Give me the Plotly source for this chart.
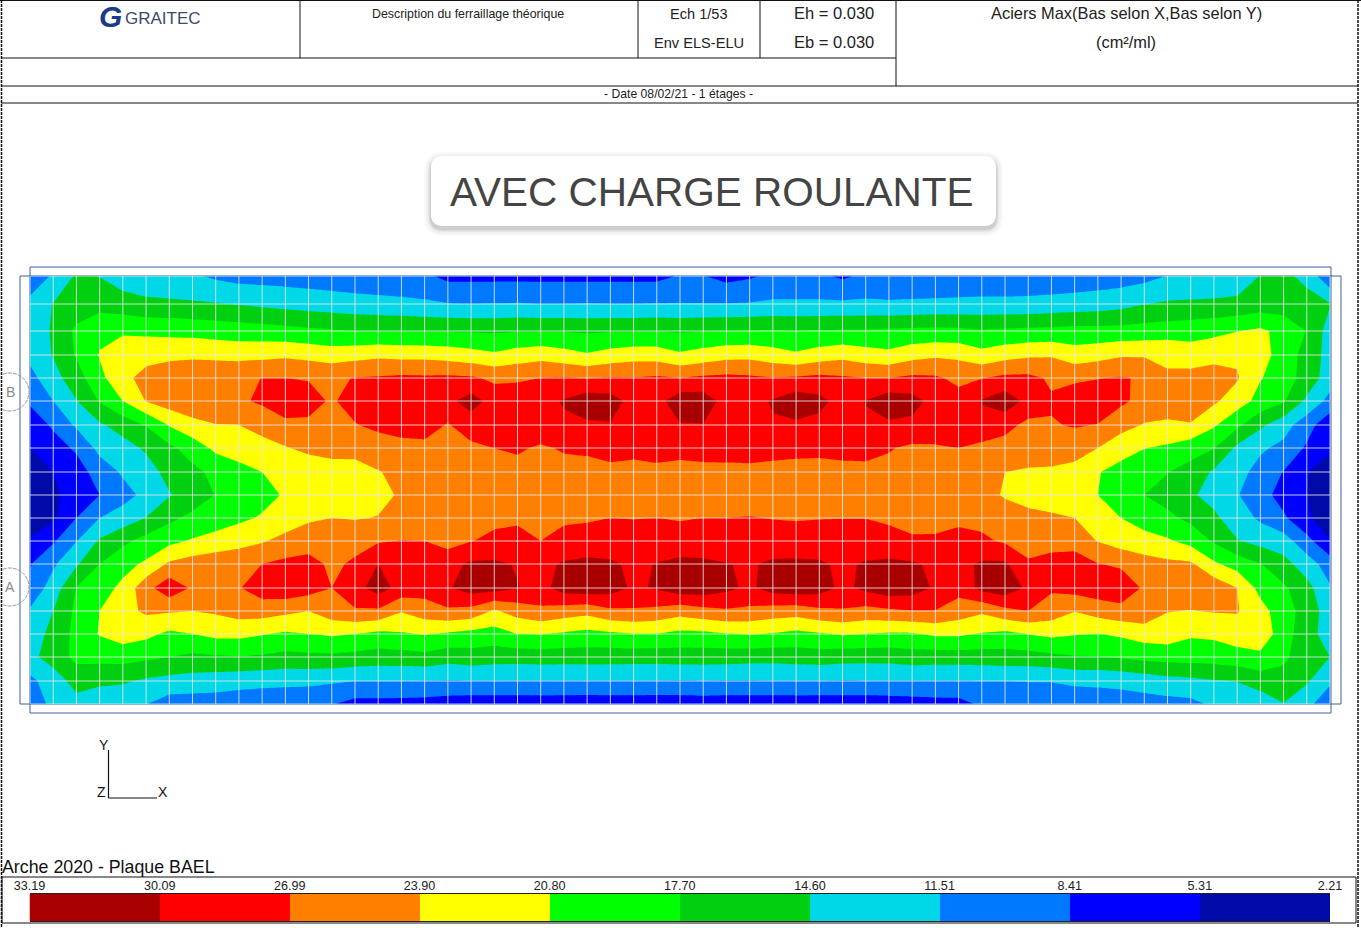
import plotly.graph_objects as go

W, H = 1361, 928

# ---------- data ----------
legend_labels = ["33.19", "30.09", "26.99", "23.90", "20.80", "17.70", "14.60", "11.51", "8.41", "5.31", "2.21"]
legend_levels = [float(v) for v in legend_labels]
band_colors = ["#000AA8", "#0000FF", "#0078FF", "#00D8E8", "#00D010",
               "#00FF00", "#FFFF00", "#FF8000", "#FF0000", "#A80000"]

x_cells = list(range(57))
y_rows = [0, 28, 55, 79, 102, 125, 149, 172, 196, 219, 242, 265, 288, 312, 335, 358, 381, 405, 428]

row_00 = [8.9,12.0,15.0,14.5,13.0,12.6,12.2,11.9,11.0,10.4,10.3,10.2,10.0,9.8,9.6,9.4,9.2,9.0,7.6,7.6,7.6,7.6,7.6,7.6,7.6,7.6,7.6,7.6,8.6,8.5,7.4,8.0,9.0,9.0,9.0,7.9,9.0,9.2,9.2,9.2,9.3,9.3,9.3,9.3,9.4,9.6,9.8,10.0,10.5,11.6,12.0,12.2,12.6,14.7,15.4,13.6,9.0]
row_01 = [12.6,14.7,16.0,16.6,16.0,15.3,15.2,15.0,14.8,14.4,14.0,13.6,13.3,13.0,12.7,12.5,12.3,12.0,11.6,11.5,11.6,11.7,11.5,11.5,11.6,11.5,11.5,11.6,11.6,11.6,11.6,11.7,12.0,12.0,12.0,12.0,12.1,11.9,12.0,12.1,12.2,12.3,12.3,12.4,12.6,12.8,13.1,13.6,14.5,15.0,15.1,15.2,15.4,16.0,16.2,16.0,14.8]
row_02 = [12.5,15.0,18.3,20.0,20.4,20.2,20.0,19.8,19.5,19.3,19.0,18.7,18.3,18.0,17.7,17.6,17.6,17.5,17.5,17.4,17.3,17.5,17.5,17.5,17.3,17.5,17.5,17.6,17.4,17.6,17.7,17.8,17.9,17.7,17.9,18.0,18.0,18.2,18.4,18.5,18.4,18.0,18.2,18.4,18.5,18.8,18.7,18.8,19.0,19.2,19.5,20.0,20.7,21.4,19.8,17.6,13.2]
row_03 = [12.3,14.8,18.0,21.0,22.5,22.8,23.1,23.3,23.1,22.8,23.1,23.4,23.0,22.4,22.8,23.3,23.0,23.0,22.6,22.0,21.3,22.2,22.8,22.0,21.1,22.0,22.6,22.5,21.3,22.1,22.9,23.0,22.2,21.3,22.3,23.0,22.2,21.6,22.8,23.4,23.2,21.8,22.8,23.4,23.6,22.2,22.8,23.6,23.6,23.6,22.4,23.0,23.4,22.0,19.5,16.5,13.5]
row_04 = [10.5,13.5,16.3,20.0,23.0,25.0,26.0,26.3,26.5,26.9,27.0,27.0,26.8,26.5,27.1,27.3,27.6,27.5,27.6,27.4,26.4,26.6,27.0,27.2,26.9,27.2,27.1,27.4,27.0,27.5,27.7,27.5,27.1,27.4,27.8,27.4,27.0,27.0,27.6,27.4,26.3,26.9,27.7,27.7,26.6,26.5,26.9,27.2,26.7,24.1,24.9,25.2,24.2,21.0,19.2,16.5,13.0]
row_05 = [8.9,11.5,14.5,17.9,20.8,24.0,25.5,26.0,26.4,26.5,27.5,29.0,28.2,26.6,28.4,29.4,29.0,28.5,29.3,31.5,28.8,28.6,28.9,30.4,32.0,31.5,29.0,29.0,32.0,31.8,28.9,28.9,30.4,32.0,31.0,28.8,30.2,32.0,31.2,29.0,28.1,30.3,32.0,29.2,27.3,28.6,28.6,27.6,26.0,25.5,25.7,24.4,22.3,19.8,18.0,14.0,10.5]
row_06 = [6.5,8.9,12.0,14.2,15.8,17.9,21.0,23.0,23.8,23.9,24.8,26.2,26.4,26.3,26.8,27.9,28.5,28.2,26.8,28.4,29.3,29.8,29.0,29.5,29.6,29.9,29.8,29.9,29.9,30.0,29.6,29.7,29.8,29.6,29.2,29.4,29.7,29.6,29.4,28.6,29.2,29.0,28.0,26.2,26.8,27.2,26.9,24.9,23.7,23.4,23.7,21.2,18.4,15.2,12.8,9.7,6.2]
row_07 = [5.3,7.0,8.9,12.4,13.5,15.0,17.0,19.0,21.5,22.6,23.0,23.7,24.6,25.0,24.6,25.0,25.8,26.3,26.3,26.4,27.0,27.4,26.6,27.3,27.5,28.3,27.9,28.3,28.0,28.3,28.2,28.4,28.0,27.8,27.7,28.0,28.0,27.2,26.5,26.7,27.0,26.3,25.8,25.3,25.6,25.5,23.9,22.2,20.9,20.3,19.0,17.8,14.0,12.0,10.7,8.0,5.7]
row_08 = [3.3,5.3,7.0,9.8,11.9,13.4,15.5,17.0,18.4,19.5,20.8,21.4,22.0,22.6,23.1,23.8,24.4,25.0,25.4,25.7,25.9,26.0,25.8,26.0,26.0,26.1,26.0,26.2,26.0,26.1,26.2,26.2,26.1,26.0,26.0,26.1,26.2,26.2,26.0,25.9,25.7,24.8,23.9,23.6,23.4,22.7,21.0,19.6,18.6,17.8,16.5,14.2,12.6,10.4,8.3,5.4,4.0]
row_09 = [2.8,4.6,6.9,8.4,10.4,12.3,14.4,15.9,17.8,18.6,19.8,21.1,22.0,22.4,22.7,23.2,24.2,24.9,25.3,25.5,25.6,25.7,25.5,25.6,25.7,25.7,25.6,25.8,25.7,25.7,25.8,25.7,25.6,25.7,25.8,25.7,25.8,25.8,25.7,25.6,25.5,25.0,23.6,23.0,22.6,22.2,20.8,19.4,17.7,16.7,15.0,13.6,11.7,9.6,7.2,5.4,2.9]
row_10 = [3.0,4.8,8.4,11.5,12.9,14.7,17.0,18.5,19.2,20.2,21.1,22.1,23.4,23.9,23.7,24.0,24.9,25.4,25.5,25.9,26.3,26.5,26.0,26.5,26.7,27.0,26.9,27.0,26.8,27.0,27.0,27.1,26.9,26.8,26.9,26.95,26.95,26.6,26.5,26.3,26.4,26.2,25.4,24.6,24.3,23.9,22.8,20.8,19.6,18.3,17.0,15.2,13.0,11.0,8.9,5.8,3.5]
row_11 = [5.8,8.0,11.4,15.0,17.0,18.8,20.0,21.1,22.0,22.7,23.6,24.9,25.8,26.3,26.1,26.7,27.1,27.0,25.8,26.9,27.7,28.0,27.0,28.0,28.1,28.5,28.4,28.5,28.2,28.6,28.6,28.7,28.4,28.2,28.3,28.3,28.3,27.9,27.2,27.3,27.9,27.5,26.6,25.7,26.0,25.4,23.8,22.5,21.8,21.2,19.8,17.3,14.8,13.6,12.9,9.5,5.5]
row_12 = [8.2,11.0,14.2,17.7,19.8,21.3,24.4,25.4,25.9,26.3,27.0,27.7,27.9,26.5,27.4,30.1,29.5,29.4,29.1,30.6,30.6,29.9,29.4,30.4,30.9,30.5,29.6,30.2,30.9,30.6,30.2,29.8,30.6,30.7,30.5,29.6,30.4,30.8,30.5,29.5,29.3,30.5,30.6,27.4,28.0,29.0,27.1,26.5,25.3,24.6,24.4,21.3,19.5,17.8,15.7,13.0,10.0]
row_13 = [9.3,12.9,17.8,19.5,21.5,26.0,29.0,26.6,26.2,26.8,28.6,29.2,28.4,27.0,29.0,31.5,29.0,28.2,29.8,31.5,31.3,30.2,29.0,31.5,32.0,31.5,29.6,30.4,32.0,32.0,30.8,29.5,31.5,32.0,31.5,29.4,30.8,32.0,31.6,29.7,28.0,31.0,32.0,29.5,27.4,28.2,28.8,29.0,26.6,25.0,25.7,26.0,23.9,19.8,18.2,15.7,11.8]
row_14 = [11.9,14.6,18.4,20.8,22.9,24.4,24.2,23.9,24.3,25.2,25.3,24.6,23.9,25.7,26.7,26.5,24.1,25.6,26.5,26.0,23.5,25.2,26.4,25.5,24.9,26.4,26.6,26.2,25.1,26.0,26.6,26.3,25.6,25.3,26.3,26.7,26.0,26.5,26.9,26.9,25.6,24.4,26.2,27.0,25.6,24.0,25.2,26.0,26.1,24.0,23.8,24.1,24.1,22.0,19.0,16.5,13.0]
row_15 = [13.0,15.5,18.6,21.0,22.4,21.6,20.2,20.8,21.6,21.6,21.0,20.4,20.8,21.2,20.8,20.0,20.5,21.0,20.4,19.8,19.5,20.8,20.9,20.4,19.9,20.3,20.8,20.7,20.0,20.1,20.7,21.0,20.6,20.0,20.5,21.1,20.8,20.4,20.5,21.3,21.3,20.6,20.0,20.9,21.5,21.0,20.7,21.3,22.2,22.4,21.2,21.4,22.5,23.0,19.0,16.0,13.0]
row_16 = [13.8,15.9,18.5,18.7,18.8,18.3,17.7,17.1,17.4,17.6,17.3,16.8,17.0,17.1,16.7,16.4,16.5,16.8,15.9,16.4,16.0,15.9,16.1,16.0,16.1,16.0,15.9,15.9,16.1,16.1,16.0,15.8,15.7,16.0,16.2,15.8,15.7,15.8,16.3,16.1,16.1,16.2,16.4,16.5,17.0,17.5,17.6,18.0,18.6,18.9,19.0,19.1,19.5,20.0,18.3,15.8,14.6]
row_17 = [10.8,13.0,15.8,15.1,15.0,14.1,13.6,13.3,12.9,12.6,12.4,12.3,12.2,11.9,11.5,11.5,11.5,11.4,11.3,11.4,11.4,11.4,11.4,11.4,11.4,11.4,11.4,11.4,11.3,11.4,11.3,11.3,11.4,11.4,11.4,11.3,11.4,11.4,11.4,11.4,11.4,11.5,11.5,11.6,11.6,12.0,12.1,12.4,12.9,13.6,13.9,14.4,14.7,16.0,16.6,15.0,12.0]
row_18 = [9.2,12.5,13.5,13.0,12.4,11.6,10.0,10.0,10.1,9.8,9.6,9.4,9.3,8.6,7.4,7.4,7.3,7.2,6.8,6.6,6.6,6.6,6.7,6.6,6.5,6.6,6.6,6.5,6.6,6.7,6.6,6.6,6.6,6.7,6.6,6.7,6.6,6.8,7.0,7.2,7.3,9.0,9.5,9.7,9.8,9.9,10.0,10.0,10.2,10.4,10.7,12.0,12.3,12.8,14.5,12.3,9.6]

field = [row_00, row_01, row_02, row_03, row_04, row_05, row_06, row_07, row_08, row_09,
         row_10, row_11, row_12, row_13, row_14, row_15, row_16, row_17, row_18]
for r in field:
    assert len(r) == 57

header_texts = [
    ("Description du ferraillage théorique", 468, 14, 12.4),
    ("Ech 1/53", 699, 14, 14.6),
    ("Env ELS-ELU", 699, 43, 14.6),
    ("Eh = 0.030", 834, 13, 16.5),
    ("Eb = 0.030", 834, 42, 16.5),
    ("Aciers Max(Bas selon X,Bas selon Y)", 1126, 13, 16.4),
    ("(cm²/ml)", 1126, 42, 16.4),
    ("- Date 08/02/21 - 1 étages -", 678, 94, 12.2),
]

# ---------- helpers ----------
def px(x): return x / W
def py(y): return 1 - y / H

shapes, annotations = [], []

def line(x0, y0, x1, y1, color="#111111", width=1, dash="solid", layer="above"):
    shapes.append(dict(type="line", xref="paper", yref="paper", x0=px(x0), y0=py(y0), x1=px(x1), y1=py(y1),
                       line=dict(color=color, width=width, dash=dash), layer=layer))

def rect(x0, y0, x1, y1, color, width=1, layer="below"):
    shapes.append(dict(type="rect", xref="paper", yref="paper", x0=px(x0), y0=py(y0), x1=px(x1), y1=py(y1),
                       line=dict(color=color, width=width), layer=layer))

def text(s, x, y, size, color="#111111", anchor="center", family="Liberation Sans", **kw):
    annotations.append(dict(text=s, xref="paper", yref="paper", x=px(x), y=py(y), showarrow=False,
                            xanchor=anchor, yanchor="middle", align=anchor,
                            font=dict(family=family, size=size, color=color), **kw))

def X(v): return f"{px(v):.6f}"
def Y(v): return f"{py(v):.6f}"

def round_box(x0, y0, x1, y1, r, fill, layer="below"):
    path = (f"M {X(x0+r)} {Y(y0)} L {X(x1-r)} {Y(y0)} Q {X(x1)} {Y(y0)} {X(x1)} {Y(y0+r)} "
            f"L {X(x1)} {Y(y1-r)} Q {X(x1)} {Y(y1)} {X(x1-r)} {Y(y1)} "
            f"L {X(x0+r)} {Y(y1)} Q {X(x0)} {Y(y1)} {X(x0)} {Y(y1-r)} "
            f"L {X(x0)} {Y(y0+r)} Q {X(x0)} {Y(y0)} {X(x0+r)} {Y(y0)} Z")
    shapes.append(dict(type="path", xref="paper", yref="paper", path=path, fillcolor=fill,
                       line=dict(width=0), layer=layer))

def bubble(cy):
    path = (f"M {X(3)} {Y(cy-17.7)} Q {X(6)} {Y(cy-19)} {X(10)} {Y(cy-19)} "
            f"C {X(20.5)} {Y(cy-19)} {X(29)} {Y(cy-10.5)} {X(29)} {Y(cy)} "
            f"C {X(29)} {Y(cy+10.5)} {X(20.5)} {Y(cy+19)} {X(10)} {Y(cy+19)} "
            f"Q {X(6)} {Y(cy+19)} {X(3)} {Y(cy+17.7)}")
    shapes.append(dict(type="path", xref="paper", yref="paper", path=path, fillcolor="rgba(0,0,0,0)",
                       line=dict(color="#9A9A9A", width=1, dash="4px,1px"), layer="below"))

# ---------- page frame and header table ----------
line(0, 0.5, W, 0.5, width=1)
line(1.5, 0, 1.5, H, width=1.5, dash="3px,1px")
line(1358, 0, 1358, H, width=1.5, dash="3px,1px")
line(1, 58, 896, 58)
line(1, 86, 1358, 86)
line(1, 103, 1358, 103)
line(300, 0, 300, 58)
line(638, 0, 638, 58)
line(760, 0, 760, 58)
line(896, 0, 896, 86)
rect(2, 877, 1356, 923, "#111111")

for s, x, y, size in header_texts:
    text(s, x, y, size, color="#222222")

text("<b><i>G</i></b>", 110, 16, 30, color="#1C3A8C")
text("GRAITEC", 163, 19, 17, color="#3B4A6B")

# ---------- title box ----------
for grow, alpha in [(7, 0.025), (5, 0.03), (3, 0.04), (2, 0.05), (1, 0.06)]:
    round_box(431 - grow, 156 - grow + 3, 996 + grow, 226 + grow + 3, 12 + grow, f"rgba(0,0,0,{alpha})")
round_box(431, 156, 996, 226, 12, "#FFFFFF")
text("AVEC CHARGE ROULANTE", 712, 192, 40.5, color="#444444")

# ---------- plate outline and axis bubbles ----------
rect(30, 267, 1331, 713, "#3F5F99")
rect(20, 276, 1341, 704, "#3F5F99")
for label, cy in [("B", 392), ("A", 587)]:
    bubble(cy)
    text(label, 10, cy, 14, color="#8A8A8A")

# ---------- orientation gizmo and footer text ----------
line(108.5, 750, 108.5, 798, width=1.2)
line(108.5, 798, 157, 798, width=1.2)
text("Y", 104, 745, 14)
text("Z", 101, 792, 14)
text("X", 163, 792, 14)
text("Arche 2020 - Plaque BAEL", 0, 867, 17.8, anchor="left")

# ---------- traces ----------
lo, hi = legend_levels[-1], legend_levels[0]
step = (hi - lo) / 10
cs = []
for i, c in enumerate(band_colors):
    cs += [[i / 10, c], [(i + 1) / 10, c]]

fig = go.Figure()
fig.add_trace(go.Contour(
    x=x_cells, y=y_rows, z=field, zmin=lo, zmax=hi, colorscale=cs, showscale=False,
    contours=dict(start=lo, end=hi, size=step, coloring="fill", showlines=False),
    line=dict(width=0, smoothing=0), hoverinfo="skip", xaxis="x", yaxis="y"))

grid_x, grid_y = [], []
for c in x_cells:
    grid_x += [c, c, None]
    grid_y += [y_rows[0], y_rows[-1], None]
for r in y_rows:
    grid_x += [x_cells[0], x_cells[-1], None]
    grid_y += [r, r, None]
fig.add_trace(go.Scatter(x=grid_x, y=grid_y, mode="lines", hoverinfo="skip", showlegend=False,
                         line=dict(color="rgba(232,232,232,0.85)", width=1), xaxis="x", yaxis="y"))

fig.add_trace(go.Heatmap(
    x=legend_levels, y=[0, 1],
    z=[[(a + b) / 2 for a, b in zip(legend_levels[:-1], legend_levels[1:])]],
    zmin=lo, zmax=hi, colorscale=cs, showscale=False, hoverinfo="skip", xaxis="x2", yaxis="y2"))

fig.update_layout(
    template="none",
    width=W, height=H, margin=dict(l=0, r=0, t=0, b=0, pad=0),
    paper_bgcolor="#FFFFFF", plot_bgcolor="rgba(0,0,0,0)", showlegend=False,
    shapes=shapes, annotations=annotations,
    xaxis=dict(domain=[px(30), px(1330)], range=[x_cells[0], x_cells[-1]], visible=False, automargin=False),
    yaxis=dict(domain=[py(704), py(276)], range=[y_rows[-1], y_rows[0]], visible=False, automargin=False),
    xaxis2=dict(domain=[px(29.5), px(1330)], range=[hi, lo], anchor="y2", side="top", automargin=False,
                tickvals=legend_levels, ticktext=legend_labels, ticks="", showgrid=False, zeroline=False,
                ticklabelstandoff=-2,
                tickfont=dict(family="Liberation Sans", size=12.6, color="#222222"),
                showline=True, mirror=True, linecolor="#222222", linewidth=1),
    yaxis2=dict(domain=[py(921), py(894)], range=[0, 1], anchor="x2", visible=False, automargin=False),
)

fig.write_html("out.html", config={"displayModeBar": False},
               post_script="document.body.style.margin='0';document.body.style.overflow='hidden';")
